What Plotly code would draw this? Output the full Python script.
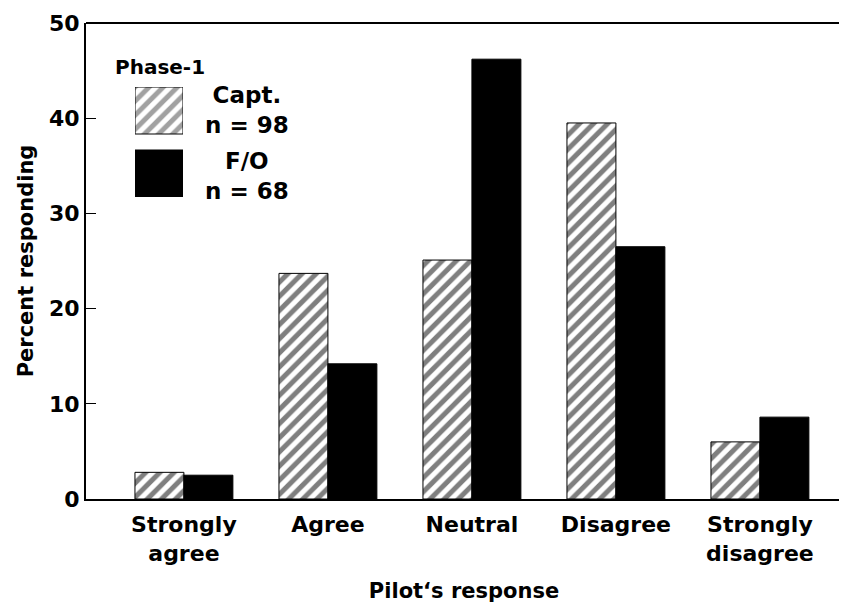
import plotly.graph_objects as go

# ---- data ----
categories = ["Strongly<br>agree", "Agree", "Neutral", "Disagree", "Strongly<br>disagree"]
capt_pct = [2.8, 23.7, 25.1, 39.5, 6.0]
fo_pct = [2.5, 14.2, 46.2, 26.5, 8.6]
series_names = ["Capt.", "F/O"]
series_counts = [98, 68]
y_ticks = [0, 10, 20, 30, 40, 50]
legend_title = "Phase-1"

FONT = "DejaVu Sans"
OFF = 8  # page body margin in the saved html
W, H = 847 - OFF, 611 - OFF
ML, MR, MT, MB = 86 - OFF, 5, 23 - OFF, 112
PW = W - ML - MR
PH = H - MT - MB


def px_x(px):
    return (px - OFF - ML) / PW


def px_y(py):
    return (H - MB - (py - OFF)) / PH


fig = go.Figure()

hatch = dict(shape="/", fgcolor="black", bgcolor="white", size=10, solidity=0.5)

fig.add_trace(go.Bar(
    x=categories, y=capt_pct, name=series_names[0],
    marker=dict(color="white", line=dict(color="black", width=1), pattern=hatch),
))
fig.add_trace(go.Bar(
    x=categories, y=fo_pct, name=series_names[1],
    marker=dict(color="black", line=dict(color="black", width=1)),
))

# legend swatches drawn as a small inset bar chart
fig.add_trace(go.Bar(
    y=series_names, x=[1] * len(series_names), orientation="h",
    xaxis="x2", yaxis="y2", width=0.746,
    marker=dict(color=["white", "black"], line=dict(color="black", width=1),
                pattern=dict(shape=["/", ""], fgcolor="black", bgcolor="white",
                             size=10, solidity=0.5)),
    hoverinfo="skip",
))

bold = dict(family=FONT, color="black", weight="bold")

fig.update_layout(
    width=W, height=H,
    margin=dict(l=ML, r=MR, t=MT, b=MB, pad=0, autoexpand=False),
    paper_bgcolor="white", plot_bgcolor="white",
    showlegend=False,
    barmode="group", bargap=0.32, bargroupgap=0,
    font=dict(family=FONT, color="black"),
    xaxis=dict(
        domain=[0, 1], range=[-0.68, 4.57], automargin=False,
        showline=True, linecolor="black", linewidth=2,
        ticks="", showgrid=False, zeroline=False,
        tickfont=dict(size=22, **bold),
        ticklabelstandoff=5,
        title=dict(text="Pilot‘s response", font=dict(size=21, **bold), standoff=18),
    ),
    yaxis=dict(
        range=[0, 50], tickvals=y_ticks, automargin=False,
        showline=True, linecolor="black", linewidth=2,
        ticks="inside", ticklen=10, tickcolor="black", tickwidth=1,
        showgrid=False, zeroline=False,
        tickfont=dict(size=22, **bold),
        ticklabelstandoff=0,
        title=dict(text="Percent responding", font=dict(size=21, **bold), standoff=10),
    ),
    xaxis2=dict(domain=[px_x(135), px_x(183)], anchor="y2", range=[0, 1],
                visible=False, fixedrange=True),
    yaxis2=dict(domain=[px_y(197), px_y(87)], anchor="x2", range=[-0.373, 1.373],
                categoryorder="array", categoryarray=series_names[::-1],
                visible=False, fixedrange=True),
    shapes=[dict(type="line", xref="paper", yref="paper",
                 x0=0, x1=px_x(847), y0=1, y1=1,
                 line=dict(color="black", width=2))],
)

annotations = [
    dict(text=legend_title, x=px_x(160), y=px_y(67), xref="paper", yref="paper",
         showarrow=False, xanchor="center", yanchor="middle",
         font=dict(size=20, **bold)),
]
label_centers = [(247, 110), (247, 176)]
for name, n, (cx, cy) in zip(series_names, series_counts, label_centers):
    annotations.append(dict(
        text=f"{name}<br>n = {n}", x=px_x(cx), y=px_y(cy),
        xref="paper", yref="paper", showarrow=False,
        xanchor="center", yanchor="middle", align="center",
        font=dict(size=23, **bold)))
fig.update_layout(annotations=annotations)

fig.write_html("out.html")
